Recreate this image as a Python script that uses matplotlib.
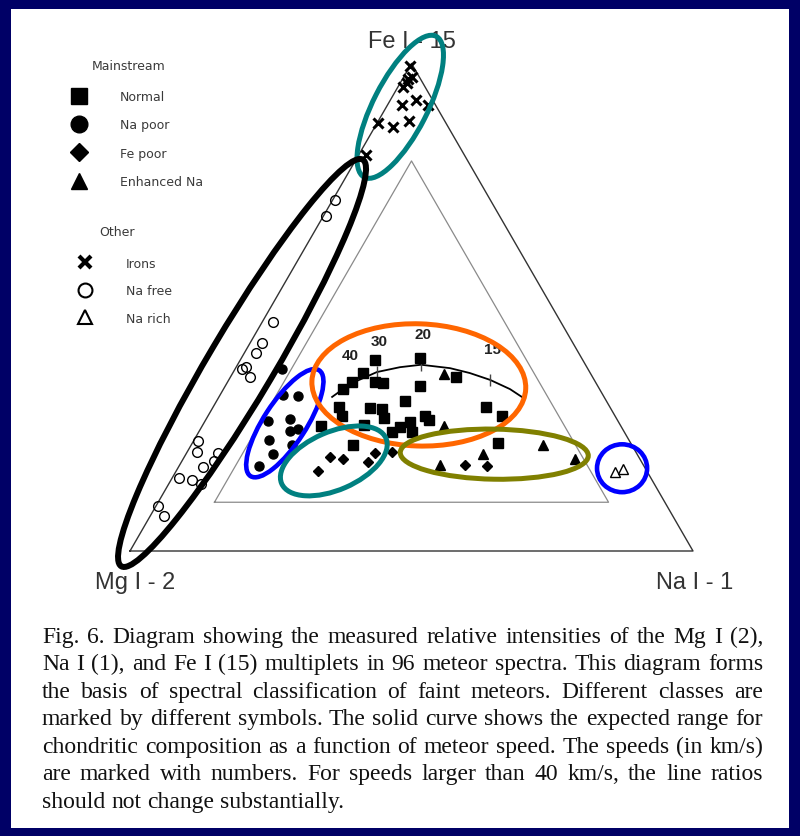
# ternary diagram of Mg I / Na I / Fe I line intensities in meteor spectra
# with hand-drawn highlight ellipses and the figure caption below

import numpy as np
import matplotlib.pyplot as plt
from matplotlib.patches import Ellipse, Rectangle
from matplotlib.lines import Line2D

# composition in percent: Fe I and Na I (Mg I is the remainder)
irons_fe = [99.5, 96.8, 97.2, 95.2, 92.5, 91.5, 91.5, 87.8, 87.0, 88.2, 81.2, 96.0]
irons_na = [0.0, 1.0, 1.5, 0.9, 4.6, 2.6, 7.2, 0.2, 3.2, 5.5, 1.3, 1.2]

nafree_fe = [72.0, 68.7, 47.0, 42.7, 40.6, 37.3, 37.7, 35.7, 22.6, 20.3, 20.1, 18.5,
             17.2, 15.0, 14.6, 13.7, 9.2, 7.2]
nafree_na = [0.5, 0.5, 1.9, 2.1, 2.1, 1.2, 1.7, 3.5, 0.8, 1.8, 5.6, 5.7,
             4.4, 1.2, 3.7, 5.7, 0.4, 2.5]

napoor_fe = [37.3, 32.0, 31.8, 26.7, 27.1, 25.0, 24.6, 22.8, 21.7, 19.9, 17.4]
napoor_na = [8.3, 11.2, 13.9, 11.2, 14.9, 17.3, 16.1, 13.3, 17.9, 15.5, 14.2]

normal_fe = [39.2, 39.6, 36.5, 34.7, 34.5, 34.7, 33.2, 33.8, 35.7, 30.8, 29.5, 27.7, 29.3, 29.1,
             27.3, 29.5, 27.7, 27.7, 26.9, 26.5, 25.4, 24.4, 24.4, 25.8, 25.6, 21.7, 22.1]
normal_na = [23.9, 31.7, 23.1, 26.2, 27.7, 22.1, 21.2, 34.6, 40.1, 33.5, 22.4, 23.8, 28.0, 30.2,
             31.5, 48.5, 52.2, 38.6, 39.7, 36.5, 35.2, 34.3, 37.9, 28.6, 21.1, 28.7, 54.3]

fepoor_fe = [19.3, 18.9, 16.4, 18.3, 20.1, 20.3, 17.6, 17.4]
fepoor_na = [25.9, 28.4, 25.2, 33.1, 33.5, 36.4, 50.7, 54.7]

enhna_fe = [36.3, 25.6, 21.7, 19.9, 17.6, 18.9]
enhna_na = [37.6, 43.0, 62.5, 52.8, 46.2, 69.6]

narich_fe = [16.2, 16.8]
narich_na = [78.0, 79.2]

# expected chondritic curve and speed marks (km/s)
curve_fe = [31.6, 34.3, 36.7, 37.7, 38.2, 37.5, 36.5, 35.1, 33.2, 31.6]
curve_na = [20.1, 22.0, 25.5, 29.1, 32.6, 38.1, 42.1, 46.4, 50.9, 53.8]
speeds = ["40", "30", "20", "15"]
speed_fe = [33.8, 36.7, 38.2, 35.1]
speed_na = [21.8, 25.5, 32.6, 46.4]

inner_min = 10.0  # inner triangle: every line at least 10 %

# highlight ellipses, in diagram units (triangle side = 1)
ell_x = [0.480, 0.199, 0.275, 0.513, 0.362, 0.647, 0.874]
ell_y = [0.789, 0.334, 0.227, 0.295, 0.160, 0.172, 0.147]
ell_w = [0.281, 0.840, 0.224, 0.380, 0.202, 0.334, 0.089]
ell_h = [0.096, 0.117, 0.075, 0.217, 0.103, 0.089, 0.085]
ell_ang = [63, 59.3, 57, -2, 23.5, -1, 0]
ell_col = ['#008080', 'black', '#0000ff', '#ff6600', '#008080', '#808000', '#0000ff']
ell_lw = [3.6, 4.3, 3.3, 3.6, 3.6, 3.6, 3.3]

caption = [
    "Fig. 6. Diagram showing the measured relative intensities of the Mg I (2),",
    "Na I (1), and Fe I (15) multiplets in 96 meteor spectra. This diagram forms",
    "the basis of spectral classification of faint meteors. Different classes are",
    "marked by different symbols. The solid curve shows the expected range for",
    "chondritic composition as a function of meteor speed. The speeds (in km/s)",
    "are marked with numbers. For speeds larger than 40 km/s, the line ratios",
    "should not change substantially.",
]


def tern(fe, na):
    fe = np.asarray(fe) / 100.0
    na = np.asarray(na) / 100.0
    return na + fe / 2, fe * np.sqrt(3) / 2


W, H = 800, 837
side = 563.0          # triangle side in pixels
x0, y0 = 130.0, 552.0  # Mg corner in pixels

fig = plt.figure(figsize=(W / 100, H / 100), dpi=100)
fig.patch.set_facecolor('#000066')
ax = fig.add_axes([0, 0, 1, 1])
ax.set_xlim(-x0 / side, (W - x0) / side)
ax.set_ylim(-(H - y0) / side, y0 / side)
ax.axis('off')
ax.add_patch(Rectangle((11 / W, 8 / H), 778 / W, 819 / H, transform=ax.transAxes,
                       facecolor='white', edgecolor='none', zorder=0))

# triangles
h = np.sqrt(3) / 2
ax.plot([0, 1, 0.5, 0], [0, 0, h, 0], color='#333333', lw=1.0, zorder=2)
m = inner_min
ix, iy = tern([m, m, 100 - 2 * m, m], [m, 100 - 2 * m, m, m])
ax.plot(ix, iy, color='#8a8a8a', lw=0.9, zorder=2)

# data
kw = dict(ls='none', zorder=4)
ax.plot(*tern(normal_fe, normal_na), marker='s', ms=6.5, color='black', **kw)
ax.plot(*tern(napoor_fe, napoor_na), marker='o', ms=6.5, color='black', **kw)
ax.plot(*tern(fepoor_fe, fepoor_na), marker='D', ms=5.5, color='black', **kw)
ax.plot(*tern(enhna_fe, enhna_na), marker='^', ms=7, color='black', **kw)
ax.plot(*tern(irons_fe, irons_na), marker='x', ms=6.5, mew=2.2, color='black', **kw)
ax.plot(*tern(nafree_fe, nafree_na), marker='o', ms=7, mfc='none', mec='black', mew=1.0, **kw)
ax.plot(*tern(narich_fe, narich_na), marker='^', ms=6.5, mfc='none', mec='black', mew=1.0, **kw)

# chondritic curve with speed marks
ax.plot(*tern(curve_fe, curve_na), color='black', lw=1.3, zorder=3)
sx, sy = tern(speed_fe, speed_na)
ax.plot(sx, sy, ls='none', marker='|', ms=8, mew=1.0, color='#444444', zorder=3)
for s, px, py in zip(speeds, sx, sy):
    ax.annotate(s, (px, py), xytext=(1.5, 22.3), textcoords='offset points',
                ha='center', va='center', fontsize=11, fontweight='bold',
                family='Liberation Sans', color='#222222')

# corner labels
lab_kw = dict(textcoords='offset points', ha='center', va='center', fontsize=17,
              family='Liberation Sans', color='#333333')
ax.annotate("Fe I - 15", (0.5, h), xytext=(0, 16), **lab_kw)
ax.annotate("Mg I - 2", (0, 0), xytext=(3.6, -22.3), **lab_kw)
ax.annotate("Na I - 1", (1, 0), xytext=(1.5, -22.3), **lab_kw)

# highlight ellipses
for cx, cy, ew, eh, ea, ec, elw in zip(ell_x, ell_y, ell_w, ell_h, ell_ang, ell_col, ell_lw):
    ax.add_patch(Ellipse((cx, cy), ew, eh, angle=ea, fill=False, edgecolor=ec,
                         lw=elw, zorder=6))

# legends, with their group headers as plain text
txt_col = '#3a3a3a'
leg_kw = dict(loc='upper left', frameon=False, fontsize=9,
              borderpad=0, borderaxespad=0, handlelength=2,
              handletextpad=2.28, labelcolor=txt_col)
main_h = [Line2D([], [], ls='none', marker='s', ms=11, color='black'),
          Line2D([], [], ls='none', marker='o', ms=12, color='black'),
          Line2D([], [], ls='none', marker='D', ms=9, color='black'),
          Line2D([], [], ls='none', marker='^', ms=11, color='black')]
fig.legend(main_h, ["Normal", "Na poor", "Fe poor", "Enhanced Na"],
           bbox_to_anchor=(66.5 / W, 1 - 91 / H), labelspacing=1.23, **leg_kw)
fig.text(92 / W, 1 - 66 / H, "Mainstream", fontsize=9, color=txt_col, va='center')
other_h = [Line2D([], [], ls='none', marker='x', ms=9, mew=3, color='black'),
           Line2D([], [], ls='none', marker='o', ms=10, mfc='none', mec='black', mew=1.5),
           Line2D([], [], ls='none', marker='^', ms=10, mfc='none', mec='black', mew=1.5)]
fig.legend(other_h, ["Irons", "Na free", "Na rich"],
           bbox_to_anchor=(72.5 / W, 1 - 257.5 / H), labelspacing=1.17, **leg_kw)
fig.text(99 / W, 1 - 232 / H, "Other", fontsize=9, color=txt_col, va='center')

# justified caption
cap_kw = dict(fontsize=17, family='Liberation Serif', color='#111111')
renderer = fig.canvas.get_renderer()
left, right = 42.0, 763.0
for i, line in enumerate(caption):
    words = line.split()
    widths = []
    for w in words:
        t = fig.text(0, 0, w, **cap_kw)
        widths.append(t.get_window_extent(renderer).width)
        t.remove()
    if i < len(caption) - 1:
        gap = (right - left - sum(widths)) / (len(words) - 1)
    else:
        gap = 6.0
    base = 643 + i * 27.5
    xp = left
    for w, wd in zip(words, widths):
        fig.text(xp / W, 1 - base / H, w, ha='left', va='baseline', **cap_kw)
        xp += wd + gap

fig.savefig("out.png", dpi=100, facecolor=fig.get_facecolor())
